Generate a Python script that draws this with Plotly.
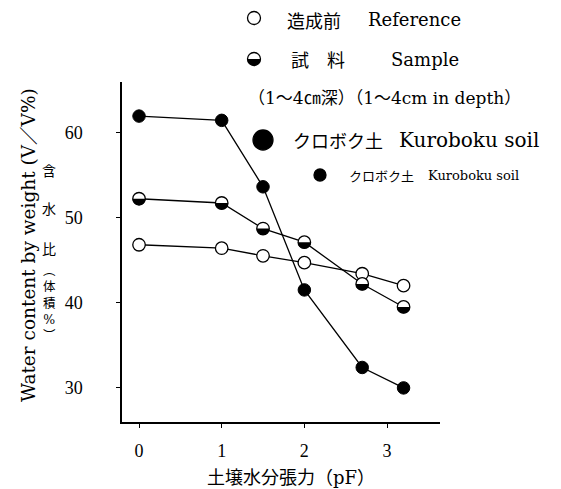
import plotly.graph_objects as go

# ---- data ----
pF = [0, 1, 1.5, 2, 2.7, 3.2]
reference = [46.8, 46.4, 45.5, 44.7, 43.4, 42.0]
sample = [52.2, 51.7, 48.7, 47.1, 42.2, 39.5]
kuroboku = [61.9, 61.4, 53.6, 41.5, 32.4, 30.0]
x_ticks = [0, 1, 2, 3]
y_ticks = [30, 40, 50, 60]

OFF = 8  # page body margin
W, H = 561 - OFF, 489 - OFF
L, R, T, B = 122 - OFF, 440 - OFF, 82 - OFF, 422 - OFF

def px(x):
    return (x - OFF - L) / (R - L)

def py(y):
    return (B - (y - OFF)) / (B - T)

SERIF = "DejaVu Serif, Noto Sans CJK JP"
CJK = "Noto Sans CJK JP"
NUM = "Liberation Serif"

fig = go.Figure()

line = dict(color="black", width=1.3)
fig.add_trace(go.Scatter(x=pF, y=reference, mode="lines+markers", line=line,
                         marker=dict(size=12.5, color="white", line=dict(color="black", width=1.3)),
                         showlegend=False))
fig.add_trace(go.Scatter(x=pF, y=sample, mode="lines+markers", line=line,
                         marker=dict(size=12.5, color="white", line=dict(color="black", width=1.3)),
                         showlegend=False))
fig.add_trace(go.Scatter(x=pF, y=kuroboku, mode="lines+markers", line=line,
                         marker=dict(size=12.5, color="black", line=dict(color="black", width=1)),
                         showlegend=False))

def half_path(r):
    # lower half of a circle (pixel y grows upward in pixel size mode)
    k = 0.5523 * r
    return (f"M {-r},0 C {-r},{-k} {-k},{-r} 0,{-r} "
            f"C {k},{-r} {r},{-k} {r},0 Z")

shapes = []
for xv, yv in zip(pF, sample):
    shapes.append(dict(type="path", xref="x", yref="y", xsizemode="pixel", ysizemode="pixel",
                       xanchor=xv, yanchor=yv, path=half_path(6.5), fillcolor="black",
                       line=dict(width=0), layer="above"))

# legend symbols
def circle(cx, cy, d, fill):
    r = d / 2
    return dict(type="circle", xref="paper", yref="paper", xsizemode="pixel", ysizemode="pixel",
                xanchor=px(cx), yanchor=py(cy), x0=-r, x1=r, y0=-r, y1=r,
                fillcolor=fill, line=dict(color="black", width=1.3), layer="above")

shapes.append(circle(254, 18, 13, "white"))
shapes.append(circle(254, 59, 13, "white"))
shapes.append(dict(type="path", xref="paper", yref="paper", xsizemode="pixel", ysizemode="pixel",
                   xanchor=px(254), yanchor=py(59), path=half_path(6.6), fillcolor="black",
                   line=dict(width=0), layer="above"))
shapes.append(circle(263, 140, 20, "black"))
shapes.append(circle(320, 175, 12, "black"))

ann = []
def text(x, y, s, size, family=SERIF, xanchor="left", angle=0):
    ann.append(dict(x=px(x), y=py(y), xref="paper", yref="paper", text=s, showarrow=False,
                    xanchor=xanchor, yanchor="middle", textangle=angle,
                    font=dict(family=family, size=size, color="black")))

text(285, 20, "造成前", 18, CJK)
text(366, 19, "Reference", 18)
text(289, 59, "試　料", 18, CJK)
text(389, 59, "Sample", 18)
text(246, 98, "（1～4㎝深）（1～4cm in depth）", 17)
text(291, 140, "クロボク土", 18, CJK)
text(397, 140, "Kuroboku soil", 20)
text(347, 175, "クロボク土", 13, CJK)
text(426, 175, "Kuroboku soil", 13)

# y titles
text(28, 245, "Water content by weight (V／V%)", 18.5, xanchor="center", angle=-90)
for ch, yy in [("含", 170), ("水", 208), ("比", 248)]:
    text(49, yy, ch, 14, CJK, xanchor="center")
text(49, 303, "︵<br>体<br>積<br>%<br>︶", 12.5, SERIF, xanchor="center")

# x title
text(291, 477, "土壌水分張力（pF）", 18, SERIF, xanchor="center")

fig.update_layout(
    width=W, height=H,
    margin=dict(l=L, r=W - R, t=T, b=H - B, pad=0),
    plot_bgcolor="white", paper_bgcolor="white",
    shapes=shapes, annotations=ann,
    xaxis=dict(range=[-0.206, 3.641], tickvals=x_ticks, ticks="outside", ticklen=4,
               tickcolor="black", showline=True, linecolor="black", linewidth=1.5,
               showgrid=False, zeroline=False, ticklabelstandoff=8,
               tickfont=dict(family=NUM, size=18, color="black")),
    yaxis=dict(range=[26.0, 65.9], tickvals=y_ticks, ticks="outside", ticklen=4,
               tickcolor="black", showline=True, linecolor="black", linewidth=1.5,
               showgrid=False, zeroline=False, ticklabelstandoff=30,
               tickfont=dict(family=NUM, size=18, color="black")),
)

fig.write_html("out.html")
